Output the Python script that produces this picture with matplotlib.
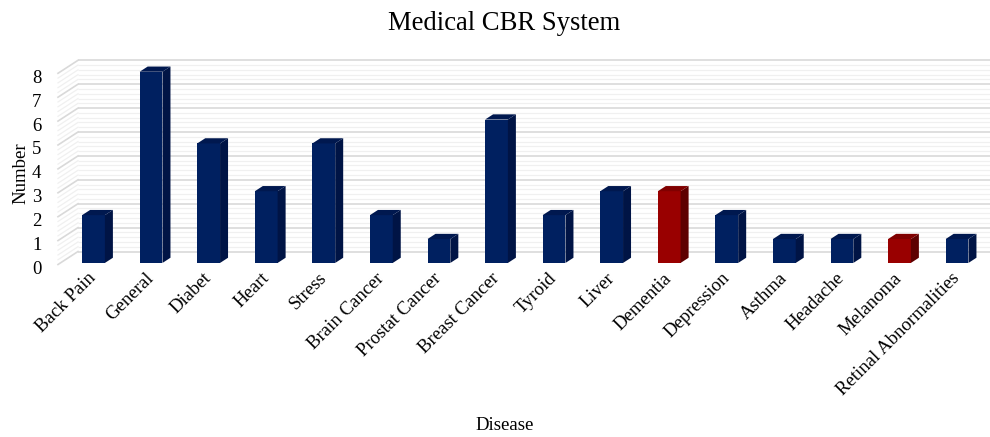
import matplotlib
matplotlib.use("Agg")
import matplotlib.pyplot as plt
from matplotlib.patches import Polygon
from matplotlib.transforms import ScaledTranslation
import numpy as np

# ---- data -------------------------------------------------------------
diseases = ["Back Pain", "General", "Diabet", "Heart", "Stress", "Brain Cancer",
            "Prostat Cancer", "Breast Cancer", "Tyroid", "Liver", "Dementia",
            "Depression", "Asthma", "Headache", "Melanoma", "Retinal Abnormalities"]
counts = [2, 8, 5, 3, 5, 2, 1, 6, 2, 3, 3, 2, 1, 1, 1, 1]
highlighted = ["Dementia", "Melanoma"]
y_ticks = [0, 1, 2, 3, 4, 5, 6, 7, 8]

# ---- style ------------------------------------------------------------
BLUE = ("#002060", "#001445", "#00184f")   # front, side, top
RED = ("#990000", "#5e0000", "#800000")
MAJOR_GRID = "#d9d9d9"
MINOR_GRID = "#f0f0f0"
SERIF = ["Liberation Serif", "DejaVu Serif"]
FS = 13.5

W, H, DPI = 990, 437, 100
fig = plt.figure(figsize=(W / DPI, H / DPI), dpi=DPI)

# pixel geometry of the front plane
px_per_x = 57.57
px_per_y = 23.9
left_px, right_px = 58, 990
zero_px = 264.5                      # pixel row of value 0 on the front plane
x0 = -0.575                          # category coordinate at the left wall
x1 = x0 + (right_px - left_px) / px_per_x
y_top = 9.0

ax = fig.add_axes([left_px / W, (H - zero_px) / H,
                   (right_px - left_px) / W, y_top * px_per_y / H])
ax.set_xlim(x0, x1)
ax.set_ylim(0, y_top)
ax.patch.set_alpha(0)
for s in ax.spines.values():
    s.set_visible(False)

# depth of the 3-D box expressed in data units
DX = 20 / px_per_x
DY = 13 / px_per_y

# back wall and left side wall gridlines
levels = np.round(np.arange(0, max(y_ticks) + 0.001, 0.2), 2)
for lv in levels:
    major = abs(lv - round(lv)) < 1e-6
    c = MAJOR_GRID if major else MINOR_GRID
    lw = 1.2 if major else 0.9
    z = 1 if major else 0
    ax.plot([x0 + DX, x1 + DX], [lv + DY, lv + DY], color=c, lw=lw,
            zorder=z, clip_on=False, solid_capstyle="butt")
    ax.plot([x0, x0 + DX], [lv, lv + DY], color=c, lw=lw, zorder=z,
            clip_on=False)

# 3-D columns
xs = np.arange(len(diseases))
z_front, z_depth = 0.12, 0.40
bw = 22.8 / px_per_x
ox, oy = z_front * DX, z_front * DY      # shift of the column front face
dx, dy = z_depth * DX, z_depth * DY      # column depth
for i, (name, v) in enumerate(zip(diseases, counts)):
    front, side, top = RED if name in highlighted else BLUE
    xc = xs[i] + ox
    ax.bar(xc, v, width=bw, bottom=oy, color=front, edgecolor="none", zorder=3)
    xr, xl = xc + bw / 2, xc - bw / 2
    ax.add_patch(Polygon([(xr, oy), (xr, oy + v), (xr + dx, oy + v + dy),
                          (xr + dx, oy + dy)], closed=True, facecolor=side,
                         edgecolor="none", zorder=3))
    ax.add_patch(Polygon([(xl, oy + v), (xr, oy + v), (xr + dx, oy + v + dy),
                          (xl + dx, oy + v + dy)], closed=True, facecolor=top,
                         edgecolor="none", zorder=3))

# axes text
ax.set_yticks(y_ticks)
ax.set_yticklabels([str(t) for t in y_ticks], fontfamily=SERIF, fontsize=FS)
ax.tick_params(axis="y", length=0, pad=12)
shift_down = ScaledTranslation(0, -3 / 72 * 72 / DPI, fig.dpi_scale_trans)
for lab in ax.get_yticklabels():
    lab.set_transform(lab.get_transform() + shift_down)
ax.set_xticks(xs + ox)
ax.set_xticklabels(diseases, fontfamily=SERIF, fontsize=FS)
ax.tick_params(axis="x", length=0, pad=8)
for lab in ax.get_xticklabels():
    lab.set_rotation(45)
    lab.set_ha("right")
    lab.set_va("center")
    lab.set_rotation_mode("anchor")

fig.text(504 / W, 1 - 23 / H, "Medical CBR System", ha="center", va="center",
         fontfamily=SERIF, fontsize=19.2)
fig.text(505 / W, 1 - 425 / H, "Disease", ha="center", va="center",
         fontfamily=SERIF, fontsize=FS)
fig.text(21 / W, 1 - 173 / H, "Number", ha="center", va="center",
         rotation=90, fontfamily=SERIF, fontsize=FS)

fig.savefig("out.png", dpi=DPI, facecolor="white")
